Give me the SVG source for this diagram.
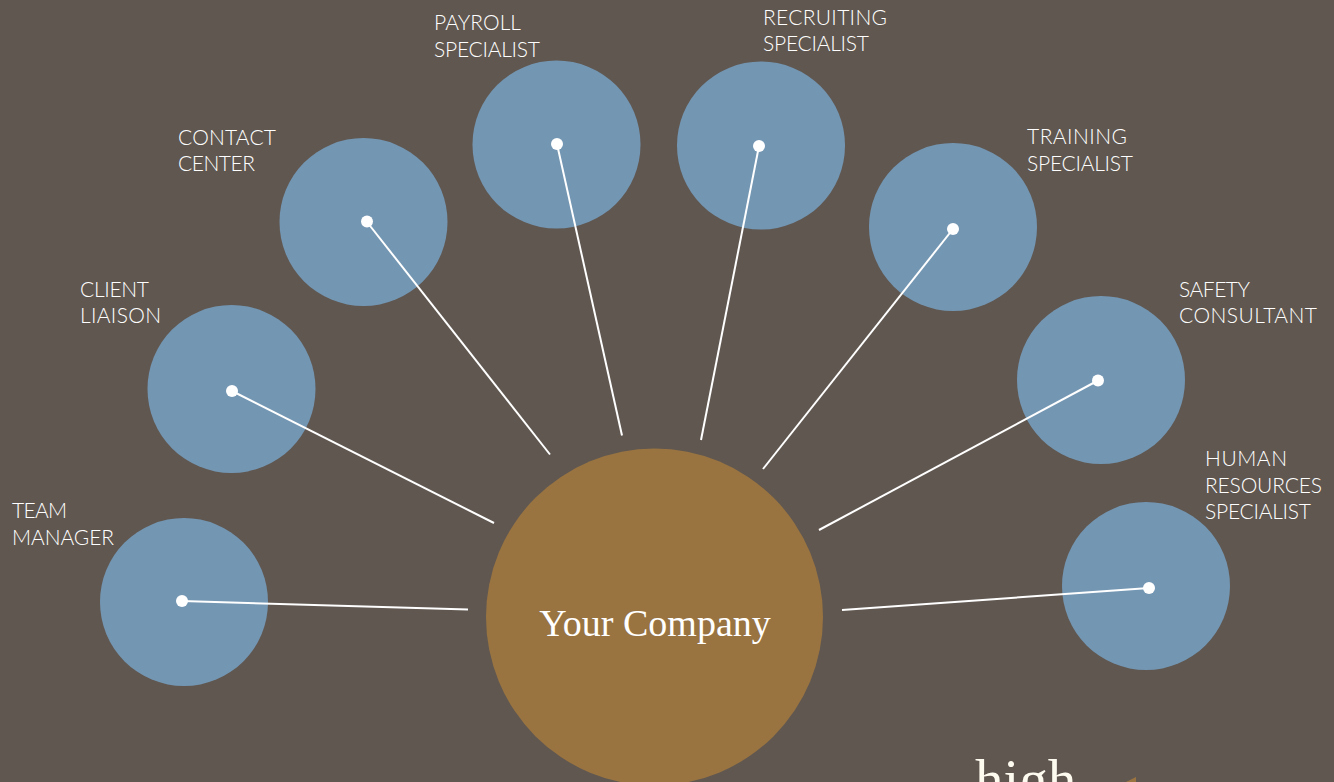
<svg xmlns="http://www.w3.org/2000/svg" width="1334" height="782" viewBox="0 0 1334 782">
<style>
.n{fill:#7396b3}
.d{fill:#fff}
.t{font-family:"Lato","Liberation Sans",sans-serif;font-weight:300;font-size:21px;fill:#fff}
.c line{stroke:#fff;stroke-width:2}
</style>
<rect width="1334" height="782" fill="#605750"/>
<g id="hub"><circle cx="654.500" cy="617" r="168.500" fill="#997441"/><text x="655" y="636" text-anchor="middle" font-family="'Liberation Serif',serif" font-size="38" fill="#fff">Your Company</text></g>
<g id="team"><circle class="n" cx="184" cy="602" r="84"/><text class="t" x="12" y="518" textLength="55">TEAM</text><text class="t" x="12" y="545" textLength="102">MANAGER</text></g>
<g id="client"><circle class="n" cx="231.500" cy="389" r="84"/><text class="t" x="80" y="297" textLength="69">CLIENT</text><text class="t" x="80" y="323" textLength="81">LIAISON</text></g>
<g id="contact"><circle class="n" cx="363.500" cy="222" r="84"/><text class="t" x="178" y="145" textLength="98">CONTACT</text><text class="t" x="178" y="171" textLength="77">CENTER</text></g>
<g id="payroll"><circle class="n" cx="556.500" cy="144.500" r="84"/><text class="t" x="434" y="30" textLength="87">PAYROLL</text><text class="t" x="434" y="57" textLength="106">SPECIALIST</text></g>
<g id="recruiting"><circle class="n" cx="761" cy="145.500" r="84"/><text class="t" x="763" y="25" textLength="124">RECRUITING</text><text class="t" x="763" y="51" textLength="106">SPECIALIST</text></g>
<g id="training"><circle class="n" cx="953" cy="227" r="84"/><text class="t" x="1027" y="144" textLength="100">TRAINING</text><text class="t" x="1027" y="171" textLength="106">SPECIALIST</text></g>
<g id="safety"><circle class="n" cx="1101" cy="380" r="84"/><text class="t" x="1179" y="297" textLength="71">SAFETY</text><text class="t" x="1179" y="323" textLength="138">CONSULTANT</text></g>
<g id="hr"><circle class="n" cx="1146" cy="586" r="84"/><text class="t" x="1205" y="466" textLength="82">HUMAN</text><text class="t" x="1205" y="493" textLength="117">RESOURCES</text><text class="t" x="1205" y="519" textLength="106">SPECIALIST</text></g>
<g id="connectors" class="c">
<line x1="182" y1="601" x2="468" y2="609.500"/>
<line x1="232" y1="391" x2="494" y2="523"/>
<line x1="367" y1="222" x2="550" y2="454.500"/>
<line x1="557" y1="144" x2="622" y2="435.500"/>
<line x1="759" y1="146" x2="701" y2="440"/>
<line x1="953" y1="229" x2="763" y2="469"/>
<line x1="1098" y1="380.500" x2="819" y2="530"/>
<line x1="1149" y1="588" x2="842" y2="610"/>
</g>
<g id="dots">
<circle class="d" cx="182" cy="601" r="6"/><circle class="d" cx="232" cy="391" r="6"/><circle class="d" cx="367" cy="221.500" r="6"/><circle class="d" cx="557" cy="144" r="6"/><circle class="d" cx="759" cy="146" r="6"/><circle class="d" cx="953" cy="229" r="6"/><circle class="d" cx="1098" cy="380.500" r="6"/><circle class="d" cx="1149" cy="588" r="6"/>
</g>
<text x="975" y="799" font-family="'Liberation Serif',serif" font-size="57" fill="#fdfaf0">high</text>
<path d="M1126 782L1136 777L1136 782Z" fill="#997441"/>
</svg>
